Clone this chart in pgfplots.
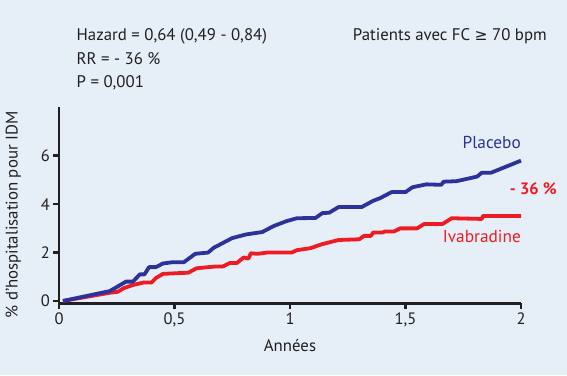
\documentclass[border=0pt]{standalone}
\usepackage{fontspec}
\setmainfont{PT Sans}
\newfontfamily\sym{DejaVu Sans}
\usepackage{pgfplots}
\pgfplotsset{compat=1.18}
\definecolor{bg}{RGB}{230,238,248}
\definecolor{bl}{RGB}{45,50,155}
\definecolor{rd}{RGB}{237,28,36}
\definecolor{tx}{RGB}{35,31,32}
\begin{document}
\begin{tikzpicture}[x=1pt,y=1pt]
\fill[bg] (0,0) rectangle (567,375);
\begin{axis}[
  at={(59pt,71.6pt)}, anchor=south west,
  scale only axis, width=462pt, height=196pt,
  xmin=0, xmax=2, ymin=-0.1, ymax=8,
  axis lines*=left, axis line style={-, line width=2.8pt, color=tx},
  xtick={0,0.5,1,1.5,2}, ytick={0,2,4,6},
  tick align=outside, major tick length=5.5pt,
  every tick/.style={line width=2.6pt, color=tx},
  tick label style={font=\fontsize{16.5}{18}\selectfont, color=tx},
  /pgf/number format/use comma,
  /pgf/number format/assume math mode=true,
  xticklabel style={yshift=0pt},
  clip=false,
]
\addplot[rd, line width=3.8pt, line join=round] coordinates {
(0.017,0) (0.22,0.34) (0.255,0.38) (0.28,0.53) (0.32,0.66) (0.365,0.76) (0.40,0.76)
(0.42,0.95) (0.45,1.12) (0.56,1.17) (0.595,1.35) (0.67,1.42) (0.71,1.43) (0.74,1.57)
(0.77,1.57) (0.80,1.8) (0.82,1.75) (0.83,1.97) (0.86,1.95) (0.90,2.0) (1.007,2.0)
(1.03,2.1) (1.087,2.18) (1.14,2.35) (1.21,2.52) (1.30,2.55) (1.32,2.69) (1.35,2.69)
(1.36,2.83) (1.40,2.83) (1.41,2.87) (1.45,2.87) (1.476,3.0) (1.55,3.0) (1.58,3.18)
(1.66,3.18) (1.70,3.42) (1.83,3.39) (1.835,3.51) (2.0,3.51)};
\addplot[bl, line width=3.8pt, line join=round] coordinates {
(0.017,0) (0.22,0.41) (0.29,0.8) (0.32,0.8) (0.35,1.1) (0.37,1.1) (0.39,1.4) (0.42,1.4)
(0.45,1.55) (0.49,1.6) (0.54,1.6) (0.59,1.95) (0.645,2.0) (0.67,2.2) (0.75,2.6)
(0.81,2.75) (0.88,2.85) (0.93,3.1) (0.985,3.3) (1.03,3.42) (1.11,3.43) (1.14,3.63)
(1.17,3.65) (1.21,3.88) (1.31,3.88) (1.36,4.14) (1.39,4.25) (1.44,4.5) (1.50,4.5)
(1.53,4.7) (1.59,4.82) (1.655,4.8) (1.665,4.93) (1.72,4.95) (1.81,5.14) (1.83,5.3)
(1.87,5.3) (2.0,5.8)};
\end{axis}
\begin{scope}[every node/.style={inner sep=0pt, text=tx, font=\fontsize{16.8}{18}\selectfont}]
\node[anchor=base west] at (76.5,334.3) {Hazard = 0,64 (0,49 - 0,84)};
\node[anchor=base west] at (76.5,310.7) {RR = - 36 \%};
\node[anchor=base west] at (76.5,287.3) {P = 0,001};
\node[anchor=base east] at (547,334.3) {Patients avec FC {\sym\fontsize{15.5}{18}\selectfont ≥} 70 bpm};
\node[anchor=base] at (290,23.3) {Années};
\node[anchor=base, rotate=90] at (17.5,160) {\% d’hospitalisation pour IDM};
\node[anchor=base east, text=bl, font=\fontsize{17.3}{19}\selectfont] at (521,226) {Placebo};
\node[anchor=base east, text=rd, font=\bfseries\fontsize{16.5}{19}\selectfont] at (557,180) {- 36 \%};
\node[anchor=base east, text=rd, font=\fontsize{17.3}{19}\selectfont] at (521,132) {Ivabradine};
\end{scope}
\end{tikzpicture}
\end{document}
